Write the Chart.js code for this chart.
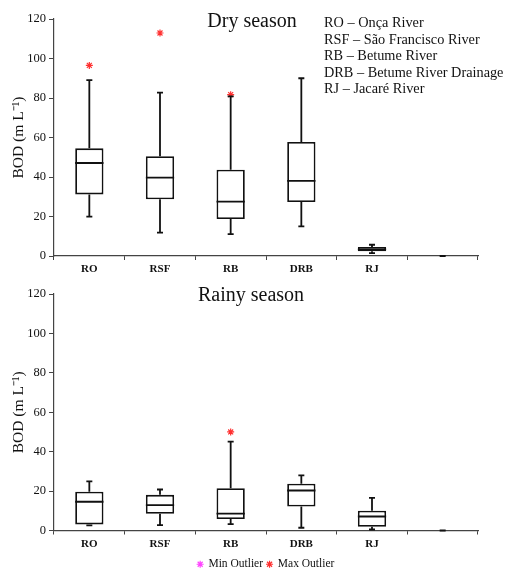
<!DOCTYPE html>
<html>
<head>
<meta charset="utf-8">
<script src="https://cdn.jsdelivr.net/npm/chart.js@4.4.1/dist/chart.umd.min.js"></script>
<style>
  body { margin: 0; background: #fff; }
  #page { position: relative; width: 508px; height: 571px; overflow: hidden; background: #fff; }
  canvas { position: absolute; left: 0; }
  .title { position: absolute; font-family: "Liberation Serif", serif; font-size: 20px; line-height: 20px; color: #111; white-space: nowrap; transform: translateX(-50%); }
  #abbrev { position: absolute; left: 324px; top: 14px; font-family: "Liberation Serif", serif; font-size: 14.3px; line-height: 16.6px; color: #111; white-space: nowrap; }
</style>
</head>
<body>
<div id="page">
  <canvas id="dry" width="508" height="280" style="top:0"></canvas>
  <canvas id="rainy" width="508" height="300" style="top:280px"></canvas>
  <div class="title" style="left:252px; top:10px">Dry season</div>
  <div class="title" style="left:251px; top:284px">Rainy season</div>
  <div id="abbrev">
    RO – Onça River<br>
    RSF – São Francisco River<br>
    RB – Betume River<br>
    DRB – Betume River Drainage<br>
    RJ – Jacaré River
  </div>
</div>
<script>
// sites (last slot is an empty category)
const categories = ['RO', 'RSF', 'RB', 'DRB', 'RJ', ''];
const yTicks = { min: 0, max: 120, step: 20 };

// Dry season box plot values
const dryLow = [19.9, 11.8, 11.1, 15.0, 1.5, 0];
const dryQ1 = [31.2, 28.7, 18.7, 27.3, 2.4, null];
const dryMedian = [47.1, 39.7, 27.5, 38.0, 3.4, null];
const dryQ3 = [54.5, 50.5, 43.7, 57.7, 4.6, null];
const dryHigh = [89.1, 82.7, 80.8, 90.0, 5.7, 0];
const dryMaxOutliers = [96.5, 112.9, 81.7, null, null, null];

// Rainy season box plot values
const rainyLow = [2.6, 2.7, 3.2, 1.4, 0.5, 0];
const rainyQ1 = [3.1, 8.5, 5.8, 12.2, 1.9, null];
const rainyMedian = [14.6, 12.9, 8.6, 20.3, 7.1, null];
const rainyQ3 = [19.7, 18.1, 21.4, 23.7, 10.0, null];
const rainyHigh = [24.9, 20.8, 45.1, 28.0, 16.6, 0];
const rainyMaxOutliers = [null, null, 50.0, null, null, null];

// no min outliers in either season
const minOutliers = [null, null, null, null, null, null];

const serif = '"Liberation Serif", "Times New Roman", serif';

// draws whiskers, caps and median lines over the floating bars
const whiskerPlugin = {
    id: 'whiskers',
    afterDatasetsDraw(chart) {
        const opts = chart.options.plugins.whiskers;
        const { ctx } = chart;
        const x = chart.scales.x;
        const y = chart.scales.y;
        const boxes = chart.getDatasetMeta(0).data;
        ctx.save();
        ctx.strokeStyle = '#111';
        ctx.lineWidth = 1.8;
        opts.low.forEach((lo, i) => {
            const cx = x.getPixelForValue(i);
            const hi = opts.high[i];
            const bottom = opts.q1[i] !== null ? opts.q1[i] : lo;
            const top = opts.q3[i] !== null ? opts.q3[i] : hi;
            ctx.beginPath();
            // lower whisker + cap
            ctx.moveTo(cx, y.getPixelForValue(bottom));
            ctx.lineTo(cx, y.getPixelForValue(lo));
            ctx.moveTo(cx - 3, y.getPixelForValue(lo));
            ctx.lineTo(cx + 3, y.getPixelForValue(lo));
            // upper whisker + cap
            ctx.moveTo(cx, y.getPixelForValue(top));
            ctx.lineTo(cx, y.getPixelForValue(hi));
            ctx.moveTo(cx - 3, y.getPixelForValue(hi));
            ctx.lineTo(cx + 3, y.getPixelForValue(hi));
            // median
            if (opts.median[i] !== null && boxes[i]) {
                const half = boxes[i].width / 2;
                const my = y.getPixelForValue(opts.median[i]);
                ctx.moveTo(cx - half, my);
                ctx.lineTo(cx + half, my);
            }
            ctx.stroke();
        });
        ctx.restore();
    }
};

function buildChart(id, low, q1, median, q3, high, maxOutliers, showLegend, padTop) {
    return new Chart(document.getElementById(id), {
        type: 'bar',
        data: {
            labels: categories,
            datasets: [
                {
                    label: 'Box',
                    data: q1.map((v, i) => (v === null ? null : [v, q3[i]])),
                    backgroundColor: '#fff',
                    borderColor: '#111',
                    borderWidth: 1.8,
                    borderSkipped: false,
                    barPercentage: 0.4,
                    categoryPercentage: 1
                },
                {
                    type: 'line',
                    label: 'Min Outlier',
                    data: minOutliers,
                    showLine: false,
                    pointStyle: 'star',
                    pointRadius: 3.5,
                    borderWidth: 1.2,
                    borderColor: '#ff44ff',
                    backgroundColor: '#ff44ff'
                },
                {
                    type: 'line',
                    label: 'Max Outlier',
                    data: maxOutliers,
                    showLine: false,
                    pointStyle: 'star',
                    pointRadius: 3.5,
                    borderWidth: 1.2,
                    borderColor: '#ff3030',
                    backgroundColor: '#ff3030'
                }
            ]
        },
        options: {
            responsive: false,
            animation: false,
            layout: { padding: { top: padTop, right: 30, left: 0, bottom: 0 } },
            plugins: {
                legend: {
                    display: showLegend,
                    position: 'bottom',
                    fullSize: false,
                    labels: {
                        filter: item => item.datasetIndex > 0,
                        usePointStyle: true,
                        boxWidth: 5,
                        boxHeight: 5,
                        padding: 4,
                        color: '#111',
                        font: { family: serif, size: 11.5 }
                    }
                },
                tooltip: { enabled: false },
                whiskers: { low, q1, median, q3, high }
            },
            scales: {
                x: {
                    grid: { drawOnChartArea: false, tickLength: 4, color: '#444', offset: true },
                    border: { color: '#444', width: 1.2 },
                    ticks: { color: '#111', padding: 3, font: { family: serif, size: 11, weight: 'bold' } },
                    afterFit: s => { s.height = 24; }
                },
                y: {
                    min: yTicks.min,
                    max: yTicks.max,
                    grid: { drawOnChartArea: false, tickLength: 5, color: '#444' },
                    border: { color: '#444', width: 1.2 },
                    ticks: { stepSize: yTicks.step, color: '#111', padding: 3, font: { family: serif, size: 12.5 } },
                    title: {
                        display: true,
                        text: 'BOD (m L⁻¹)',
                        color: '#111',
                        padding: { top: 10, bottom: 0 },
                        font: { family: serif, size: 15.5 }
                    },
                    afterFit: s => { s.width = 54; }
                }
            }
        },
        plugins: [whiskerPlugin]
    });
}

buildChart('dry', dryLow, dryQ1, dryMedian, dryQ3, dryHigh, dryMaxOutliers, false, 19);
buildChart('rainy', rainyLow, rainyQ1, rainyMedian, rainyQ3, rainyHigh, rainyMaxOutliers, true, 14);
</script>
</body>
</html>
